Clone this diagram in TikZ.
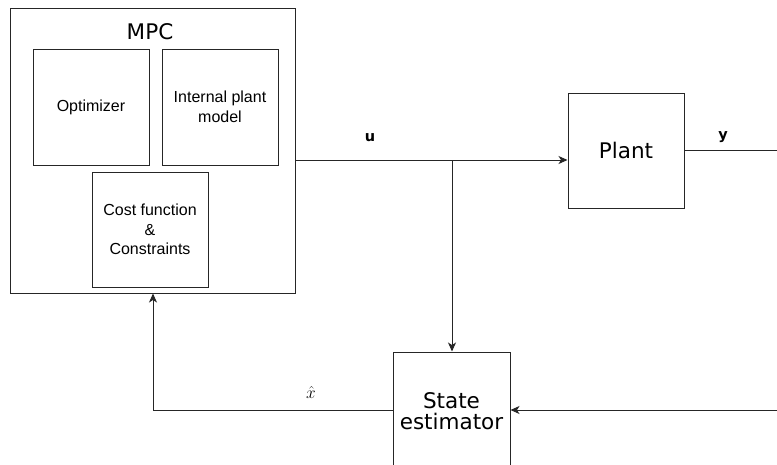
\documentclass[tikz,border=0pt]{standalone}
\usepackage{fontspec}
\setmainfont{Liberation Sans}
\newfontfamily\dejavu{DejaVu Sans}
\newfontfamily\dejavubold{DejaVu Sans Bold}
\usetikzlibrary{arrows.meta}
\begin{document}
\begin{tikzpicture}[x=1pt,y=-1pt,
  line width=1pt,
  wire/.style={draw=black!85},
  blockbox/.style={draw=black!85, rectangle, inner sep=0pt, align=center},
  inner/.style={blockbox, minimum width=116pt, minimum height=116pt, font=\fontsize{16}{19.5}\selectfont},
  big/.style={font=\dejavu\fontsize{21.5}{25}\selectfont},
  sig/.style={font=\dejavubold\fontsize{14.5}{17}\selectfont, inner sep=0pt},
  arr/.style={wire, -{Stealth[length=9pt,width=8pt,inset=2.5pt]}}
]
\useasboundingbox (0,0) rectangle (777,464);
\begin{scope}
\clip (0,0) rectangle (777,464);

% controller block with its three parts
\node[blockbox, minimum width=285pt, minimum height=285pt] (mpc) at (152.5,150.5) {};
\node[big] (mpclabel) at (150,32) {MPC};
\node[inner] (opt) at (91,107) {Optimizer};
\node[inner] (ipm) at (220,107) {Internal plant\\model};
\node[inner, minimum height=115pt] (cost) at (150,229.5) {Cost function\\\&\\Constraints};

% plant and estimator
\node[blockbox, big, minimum width=116pt, minimum height=115pt] (plant) at (626,150.5) {Plant};
\node[blockbox, minimum width=117pt, minimum height=116pt] (est) at (451.5,410) {};
\node[big, align=center] (esttext) at (451.5,411) {State\\[-4pt]estimator};

% junction and free ends
\coordinate (j) at (452,160);
\coordinate (yend) at (777,150.5);
\coordinate (meas) at (777,410);
\coordinate (corner) at (153,410);

% control signal u
\draw[wire] (mpc.east |- j) -- (j);
\draw[arr] (j) -- (plant.west |- j);
\draw[arr] (j) -- (j |- est.north);
\node[sig] (ulabel) at (370,138) {u};

% plant output y
\draw[wire] (plant.east) -- (yend);
\node[sig] (ylabel) at (723,137) {y};

% measurement into the estimator
\draw[arr] (meas) -- (est.east);

% state estimate back to the controller
\draw[arr] (est.west) -- (corner) -- (corner |- mpc.south);
\node (xhat) at (311,392) {\fontsize{17}{19}\selectfont$\hat{x}$};
\end{scope}
\end{tikzpicture}
\end{document}
